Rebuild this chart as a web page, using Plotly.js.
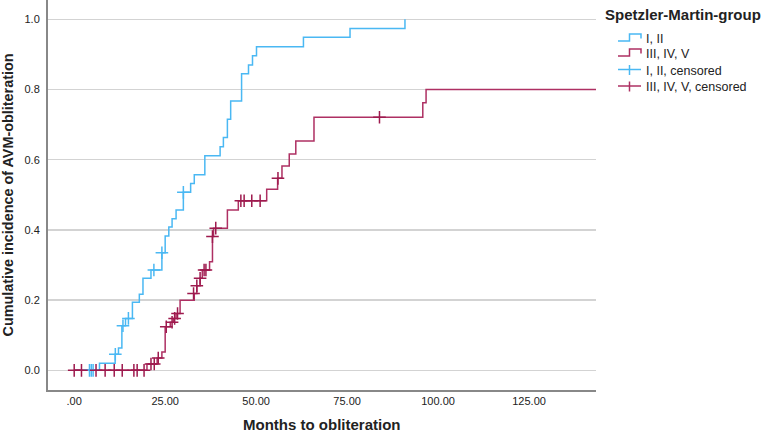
<!DOCTYPE html>
<html>
<head>
<meta charset="utf-8">
<script src="https://cdn.plot.ly/plotly-3.0.1.min.js"></script>
<style>html,body{margin:0;padding:0;background:#fff;}#chart{width:762px;height:435px;}</style>
</head>
<body>
<div id="chart"></div>
<script>
// Kaplan-Meier style cumulative incidence
const groupNames = ["I, II", "III, IV, V"];
const legendTitle = "Spetzler-Martin-group";

// Group I, II: event times (months) and cumulative incidence after each step
const lowTimes = [0, 6.95, 11.26, 12.17, 13.1, 14.1, 16.0, 17.9, 18.9, 21.1, 24.1, 25.0, 26.0, 26.9, 28.0, 30.0, 32.0, 33.0, 35.9, 40.1, 41.0, 42.1, 43.0, 46.0, 47.9, 49.0, 50.1, 63.0, 75.8, 90.9];
const lowValues = [0, 0.020, 0.046, 0.064, 0.127, 0.148, 0.194, 0.217, 0.262, 0.286, 0.335, 0.383, 0.408, 0.432, 0.457, 0.507, 0.532, 0.557, 0.611, 0.637, 0.663, 0.715, 0.767, 0.845, 0.870, 0.896, 0.922, 0.949, 0.974, 1.0];

// Group III, IV, V
const highTimes = [0, 20.0, 22.8, 24.1, 25.0, 26.4, 27.3, 28.0, 29.1, 33.0, 33.7, 34.6, 35.2, 37.2, 38.0, 38.3, 42.1, 45.1, 52.9, 55.9, 57.1, 59.1, 60.9, 65.9, 95.8, 96.7, 143.5];
const highValues = [0, 0.018, 0.035, 0.052, 0.124, 0.137, 0.148, 0.162, 0.200, 0.219, 0.241, 0.262, 0.286, 0.309, 0.381, 0.405, 0.457, 0.483, 0.516, 0.547, 0.582, 0.616, 0.653, 0.721, 0.762, 0.800, 0.800];

// Censored observations
const lowCensTimes = [4.2, 4.7, 5.2, 11.3, 13.4, 14.9, 21.9, 24.1, 30.0];
const lowCensValues = [0, 0, 0, 0.046, 0.127, 0.148, 0.286, 0.335, 0.507];
const highCensTimes = [0, 2.0, 6.0, 8.5, 11.0, 13.2, 16.4, 17.3, 19.2, 21.1, 22.0, 23.1, 25.3, 26.9, 27.6, 28.4, 32.8, 33.7, 34.6, 35.7, 36.2, 38.0, 38.9, 45.8, 46.7, 48.8, 51.1, 56.0, 83.9];
const highCensValues = [0, 0, 0, 0, 0, 0, 0, 0, 0, 0.018, 0.018, 0.035, 0.124, 0.137, 0.148, 0.162, 0.219, 0.241, 0.262, 0.286, 0.286, 0.381, 0.405, 0.483, 0.483, 0.483, 0.483, 0.547, 0.721];

const xTickVals = [0, 25, 50, 75, 100, 125];
const xTickText = [".00", "25.00", "50.00", "75.00", "100.00", "125.00"];
const yTickVals = [0, 0.2, 0.4, 0.6, 0.8, 1.0];
const yTickText = ["0.0", "0.2", "0.4", "0.6", "0.8", "1.0"];
const xTitle = "Months to obliteration";
const yTitle = "Cumulative incidence of AVM-obliteration";

const blue = "#4ab8f3";
const red = "#ae3063";
const redMark = "#9e1a4e";

const traces = [
  {x: lowTimes, y: lowValues, type: "scatter", mode: "lines", line: {shape: "hv", color: blue, width: 1.5}, name: groupNames[0], showlegend: false},
  {x: highTimes, y: highValues, type: "scatter", mode: "lines", line: {shape: "hv", color: red, width: 1.5}, name: groupNames[1], showlegend: false},
  {x: lowCensTimes, y: lowCensValues, type: "scatter", mode: "markers", marker: {symbol: "cross-thin", size: 9, color: blue, line: {width: 1.5, color: blue}}, name: groupNames[0] + ", censored", showlegend: false},
  {x: highCensTimes, y: highCensValues, type: "scatter", mode: "markers", marker: {symbol: "cross-thin", size: 9, color: redMark, line: {width: 1.5, color: redMark}}, name: groupNames[1] + ", censored", showlegend: false}
];

// Custom legend (SPSS style) in paper coordinates
const plotL = 48, plotT = 0, plotW = 548, plotH = 390;
const px = v => (v - plotL) / plotW;
const py = v => (plotT + plotH - v) / plotH;

const legendItems = [
  {text: groupNames[0], color: blue, kind: "step", cy: 39.5},
  {text: groupNames[1], color: red, kind: "step", cy: 54.5},
  {text: groupNames[0] + ", censored", color: blue, kind: "cross", cy: 71},
  {text: groupNames[1] + ", censored", color: red, kind: "cross", cy: 87.5}
];
const shapes = [];
const annotations = [
  {xref: "paper", yref: "paper", x: px(603), y: py(15), xanchor: "left", yanchor: "middle", showarrow: false,
   text: "<b>" + legendTitle + "</b>", font: {size: 15, color: "#222"}},
  {xref: "paper", yref: "paper", x: px(321), y: py(425), xanchor: "center", yanchor: "middle", showarrow: false,
   text: "<b>" + xTitle + "</b>", font: {size: 15, color: "#222"}}
];
legendItems.forEach(it => {
  const c = it.cy;
  if (it.kind === "step") {
    shapes.push({type: "path", xref: "paper", yref: "paper",
      path: `M ${px(618)},${py(c + 1.5)} H ${px(629.5)} V ${py(c - 5.5)} H ${px(641)} V ${py(c - 1)}`,
      line: {color: it.color, width: 1.5}});
  } else {
    shapes.push({type: "line", xref: "paper", yref: "paper", x0: px(618), x1: px(641), y0: py(c - 1.5), y1: py(c - 1.5), line: {color: it.color, width: 1.5}});
    shapes.push({type: "line", xref: "paper", yref: "paper", x0: px(629.5), x1: px(629.5), y0: py(c - 6), y1: py(c + 4), line: {color: it.color, width: 1.5}});
  }
  annotations.push({xref: "paper", yref: "paper", x: px(644), y: py(c), xanchor: "left", yanchor: "middle", showarrow: false,
    text: it.text, font: {size: 12.5, color: "#222"}});
});

const layout = {
  width: 762, height: 435,
  margin: {l: 48, r: 166, t: 0, b: 45},
  paper_bgcolor: "#fff", plot_bgcolor: "#fff",
  font: {family: "Arial, Liberation Sans, sans-serif", size: 11, color: "#222"},
  showlegend: false,
  shapes: shapes,
  annotations: annotations,
  xaxis: {
    range: [-7.2, 143.4], tickmode: "array", tickvals: xTickVals, ticktext: xTickText,
    showgrid: false, zeroline: false, showline: true, linecolor: "#888", linewidth: 2,
    ticks: "", tickfont: {size: 11, color: "#222"}
  },
  yaxis: {
    range: [-0.056, 1.055], tickmode: "array", tickvals: yTickVals, ticktext: yTickText,
    showgrid: true, gridcolor: "#d3d3d3", gridwidth: 1.5, zeroline: false,
    showline: true, linecolor: "#888", linewidth: 2,
    ticks: "", ticklabelstandoff: 4, tickfont: {size: 11, color: "#222"},
    title: {text: "<b>" + yTitle + "</b>", font: {size: 14.4, color: "#222"}, standoff: 12}
  }
};

Plotly.newPlot("chart", traces, layout, {displayModeBar: false, staticPlot: true});
</script>
</body>
</html>
